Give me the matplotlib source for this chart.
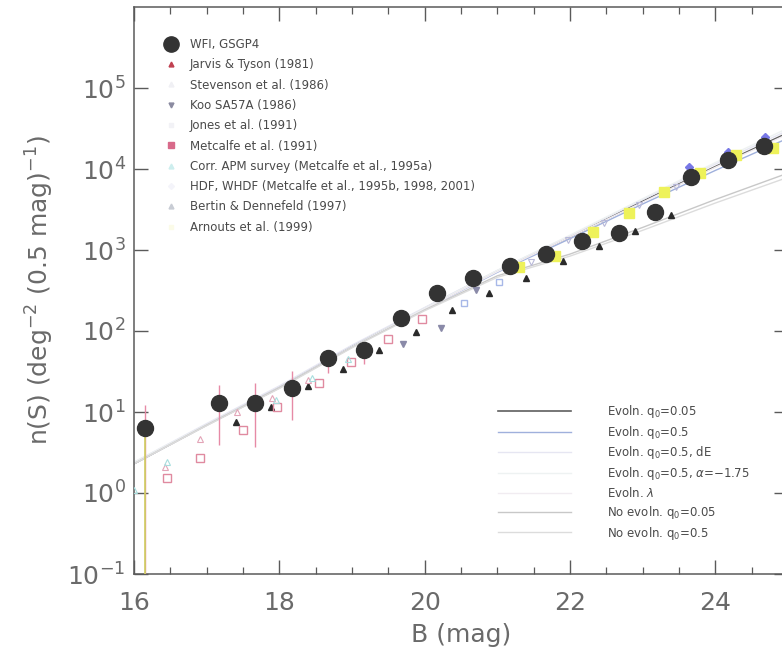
import matplotlib
matplotlib.use("Agg")
import matplotlib.pyplot as plt
from matplotlib.lines import Line2D
from matplotlib.ticker import NullLocator, MultipleLocator

# ---------------- data ----------------
B_model = [16, 17, 18, 19, 20, 21, 22, 23, 24, 25]
evol_q005 = [2.3, 6.9, 20, 65, 190, 550, 1450, 4000, 10700, 28000]
evol_q05 = [2.3, 6.9, 20, 64, 185, 530, 1380, 3700, 9600, 24000]
evol_q05_dE = [2.4, 7.2, 21, 67, 195, 560, 1500, 4200, 11500, 30000]
evol_q05_alpha = [2.4, 7.0, 20, 64, 190, 560, 1520, 4300, 12000, 32000]
evol_lambda = [2.3, 6.8, 20, 63, 185, 540, 1450, 3900, 10500, 27000]
noevol_q005 = [2.3, 6.9, 20, 63, 182, 480, 890, 1900, 4200, 8900]
noevol_q05 = [2.3, 6.8, 19.5, 62, 178, 460, 840, 1750, 3800, 7900]

model_labels = [r"Evoln. q$_0$=0.05", r"Evoln. q$_0$=0.5", r"Evoln. q$_0$=0.5, dE",
                r"Evoln. q$_0$=0.5, $\alpha$=$-$1.75", r"Evoln. $\lambda$",
                r"No evoln. q$_0$=0.05", r"No evoln. q$_0$=0.5"]

B_wfi = [16.15, 17.17, 17.67, 18.17, 18.67, 19.17, 19.67, 20.17, 20.67, 21.17,
         21.67, 22.17, 22.67, 23.17, 23.67, 24.17, 24.67]
n_wfi = [6.3, 13, 13, 20, 47, 59, 145, 295, 450, 630, 890, 1290, 1620, 2950,
         7900, 12900, 19000]
wfi_err_lo = [6.25, 9.1, 9.3, 12, 17, 20, 15, 20, 25, 20, 25, 30, 40, 60, 120, 200, 300]
wfi_err_hi = [6.0, 8.5, 10, 12, 8, 10, 15, 20, 25, 20, 25, 30, 40, 60, 120, 200, 300]

B_jt = [17.41, 17.88, 18.39, 18.88, 19.37, 19.88, 20.38, 20.88, 21.39, 21.9, 22.4, 22.9, 23.39]
n_jt = [7.6, 11.5, 21, 34, 59, 98, 183, 295, 450, 725, 1120, 1700, 2700]

B_stev = [16.43, 16.91, 17.42, 17.9, 18.4]
n_stev = [2.1, 4.6, 10, 15, 25]

B_koo = [19.7, 20.22, 20.7]
n_koo = [70, 110, 320]

B_jones = [20.54, 21.02]
n_jones = [220, 400]

B_met91 = [16.46, 16.91, 17.5, 17.97, 18.54, 18.98, 19.5, 19.97]
n_met91 = [1.55, 2.7, 6.0, 11.5, 23, 42, 80, 140]

B_apm = [16.0, 16.45, 17.95, 18.45, 18.95]
n_apm = [1.1, 2.4, 14, 26, 45]

B_hdf = [23.64, 24.18, 24.68]
n_hdf = [10500, 16000, 25000]

B_bd = [21.46, 21.97, 22.47, 22.95, 23.46]
n_bd = [710, 1320, 2140, 3630, 6000]

B_arn = [21.3, 21.8, 22.32, 22.81, 23.3, 23.79, 24.29, 24.8]
n_arn = [620, 850, 1660, 2900, 5250, 8900, 14800, 18200]

y_ticks = [1e-1, 1e0, 1e1, 1e2, 1e3, 1e4, 1e5]
y_ticklabels = [r"10$^{-1}$", r"10$^{0}$", r"10$^{1}$", r"10$^{2}$", r"10$^{3}$",
                r"10$^{4}$", r"10$^{5}$"]

# ---------------- figure ----------------
W, H = 782, 655
fig = plt.figure(figsize=(W / 100, H / 100), dpi=100)
ax = fig.add_axes([134 / W, (H - 574) / H, 654 / W, 567 / H])
ax.set_yscale("log")
ax.set_xlim(16, 25)
ax.set_ylim(1e-1, 1e6)

txt = "#6a6a6a"
for s in ax.spines.values():
    s.set_color("#5a5a5a")
    s.set_linewidth(1.1)

# model curves
model_sets = [evol_q005, evol_q05, evol_q05_dE, evol_q05_alpha, evol_lambda, noevol_q005, noevol_q05]
model_colors = ["#5f5f5f", "#9fb0dc", "#e6e6f2", "#eef2f2", "#f1ecf1", "#c8c8c8", "#dcdcdc"]
model_lw = [1.2, 1.0, 1.0, 1.0, 1.0, 1.0, 1.0]
model_handles = []
for y, c, lw, lab in zip(model_sets, model_colors, model_lw, model_labels):
    h, = ax.plot(B_model, y, color=c, lw=lw, label=lab, zorder=2)
    model_handles.append(h)

# data sets
ax.errorbar(B_wfi, n_wfi, yerr=[wfi_err_lo, wfi_err_hi], fmt="none",
            ecolor="#e68aa6", elinewidth=1.0, zorder=3)
ax.vlines(B_wfi[:1], [n_wfi[0] - wfi_err_lo[0]], n_wfi[:1], colors="#cfd060", lw=1.2, zorder=3)
h_wfi, = ax.plot(B_wfi, n_wfi, "o", ms=11.5, color="#333333", zorder=5, label="WFI, GSGP4")
h_jt, = ax.plot(B_jt, n_jt, "^", ms=5, color="#2a2a2a", zorder=4, label="Jarvis & Tyson (1981)")
h_st, = ax.plot(B_stev, n_stev, "^", ms=5, mfc="none", mec="#e3a5b8", mew=0.8, zorder=4,
                label="Stevenson et al. (1986)")
h_koo, = ax.plot(B_koo, n_koo, "v", ms=4, color="#8a8aa8", zorder=4, label="Koo SA57A (1986)")
h_jo, = ax.plot(B_jones, n_jones, "s", ms=4, mfc="none", mec="#a8b8e8", zorder=4,
                label="Jones et al. (1991)")
h_m91, = ax.plot(B_met91, n_met91, "s", ms=6, mfc="none", mec="#e08aa0", mew=1.0, zorder=4,
                 label="Metcalfe et al. (1991)")
h_apm, = ax.plot(B_apm, n_apm, "^", ms=5, mfc="none", mec="#a8dede", mew=0.8, zorder=4,
                 label="Corr. APM survey (Metcalfe et al., 1995a)")
h_hdf, = ax.plot(B_hdf, n_hdf, "D", ms=4, color="#7878e6", zorder=4,
                 label="HDF, WHDF (Metcalfe et al., 1995b, 1998, 2001)")
h_bd, = ax.plot(B_bd, n_bd, "v", ms=5, mfc="none", mec="#b8b8d8", mew=0.8, zorder=4,
                label="Bertin & Dennefeld (1997)")
h_arn, = ax.plot(B_arn, n_arn, "s", ms=7, color="#eef25a", zorder=4, label="Arnouts et al. (1999)")

# legend handles (small markers as in the reference key)
leg_handles = [
    Line2D([], [], ls="none", marker="o", ms=11, color="#333333"),
    Line2D([], [], ls="none", marker="^", ms=3.5, color="#c04050"),
    Line2D([], [], ls="none", marker="^", ms=3.5, color="#f0f0f4"),
    Line2D([], [], ls="none", marker="v", ms=3.5, color="#8a8aa0"),
    Line2D([], [], ls="none", marker="s", ms=3.5, color="#f2f2f6"),
    Line2D([], [], ls="none", marker="s", ms=4.5, color="#d86a8a"),
    Line2D([], [], ls="none", marker="^", ms=3.5, color="#cdeeee"),
    Line2D([], [], ls="none", marker="D", ms=3, color="#f4f4fa"),
    Line2D([], [], ls="none", marker="^", ms=3.5, color="#c8ccd4"),
    Line2D([], [], ls="none", marker="s", ms=3.5, color="#fbfbe8"),
]
leg_labels = [h.get_label() for h in [h_wfi, h_jt, h_st, h_koo, h_jo, h_m91, h_apm, h_hdf, h_bd, h_arn]]
leg1 = ax.legend(leg_handles, leg_labels, loc="upper left",
                 bbox_to_anchor=(160 / W, 1 - 32 / H), bbox_transform=fig.transFigure,
                 frameon=False, fontsize=8.5, labelcolor="#4a4a4a",
                 handlelength=0.9, handletextpad=1.1, labelspacing=0.62, borderpad=0)
ax.add_artist(leg1)

leg2 = ax.legend(model_handles, model_labels, loc="upper left",
                 bbox_to_anchor=(492 / W, 1 - 397 / H), bbox_transform=fig.transFigure,
                 frameon=False, fontsize=8.5, labelcolor="#4a4a4a",
                 handlelength=6.2, handletextpad=3.0, labelspacing=0.32, borderpad=0)

# ticks
ax.set_yticks(y_ticks)
ax.set_yticklabels(y_ticklabels)
ax.yaxis.set_minor_locator(NullLocator())
ax.xaxis.set_major_locator(MultipleLocator(2))
ax.xaxis.set_minor_locator(MultipleLocator(0.5))
ax.tick_params(which="both", direction="in", top=True, right=True, colors="#5a5a5a",
               labelcolor=txt, labelsize=18)
ax.tick_params(axis="x", which="major", length=10, width=1.0, pad=12)
ax.tick_params(axis="y", which="major", length=10, width=1.0, pad=6)
ax.tick_params(which="minor", length=5, width=0.9)

ax.set_xlabel("B (mag)", fontsize=18, color=txt, labelpad=6)
ax.set_ylabel(r"n(S) (deg$^{-2}$ (0.5 mag)$^{-1}$)", fontsize=18, color=txt, labelpad=8)

fig.savefig("out.png", dpi=100)
